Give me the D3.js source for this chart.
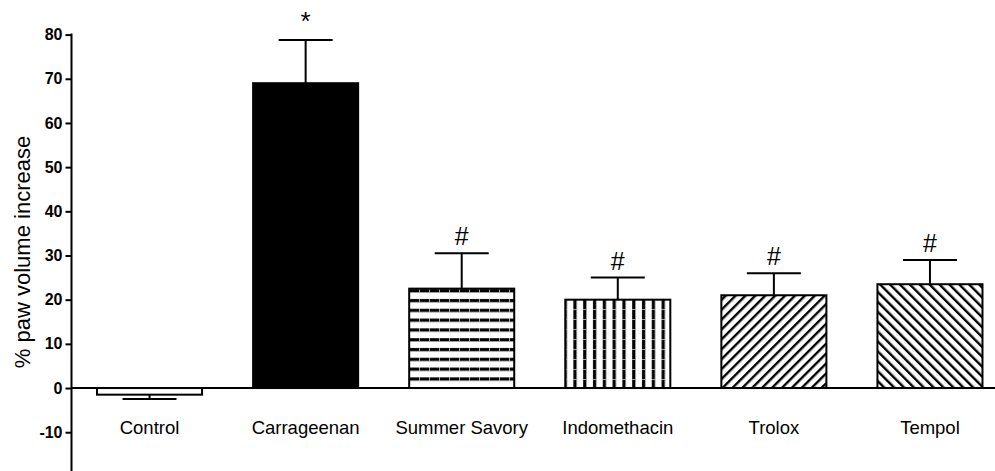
<!DOCTYPE html>
<html><head><meta charset="utf-8">
<script src="https://cdn.jsdelivr.net/npm/d3@7"></script>
<style>body{margin:0;background:#fff}svg{display:block}</style>
</head><body>
<svg id="c" width="995" height="471"></svg>
<script>
const categories = ["Control","Carrageenan","Summer Savory","Indomethacin","Trolox","Tempol"];
const means = [-1.5, 69, 22.5, 20, 21, 23.5];
const errors = [1.0, 9.8, 8.0, 5.0, 5.0, 5.5];
const marks = ["", "*", "#", "#", "#", "#"];
const fills = ["white","black","hstripe","vstripe","diagR","diagL"];
const yTicks = [-10,0,10,20,30,40,50,60,70,80];
const yTitle = "% paw volume increase";

const svg = d3.select("#c");
const x0 = 71.5;
const y = d3.scaleLinear().domain([-20, 80]).range([476.4, 34.6]);
const x = d3.scaleBand().domain(categories).range([x0, 1008]).paddingInner(0.327).paddingOuter(0.1635);

const defs = svg.append("defs");
let p = defs.append("pattern").attr("id","hstripe").attr("patternUnits","userSpaceOnUse").attr("width",10).attr("height",9.8);
p.append("rect").attr("width",10).attr("height",9.8).attr("fill","white");
p.append("rect").attr("y",5).attr("width",10).attr("height",3.2).attr("fill","black");
p.append("rect").attr("x",9).attr("y",5).attr("width",0.8).attr("height",3.2).attr("fill","#ccc");
p = defs.append("pattern").attr("id","vstripe").attr("patternUnits","userSpaceOnUse").attr("width",9.8).attr("height",10);
p.append("rect").attr("width",9.8).attr("height",10).attr("fill","white");
p.append("rect").attr("x",5).attr("width",3.2).attr("height",10).attr("fill","black");
p.append("rect").attr("x",5).attr("y",9).attr("width",3.2).attr("height",0.8).attr("fill","#ccc");
p = defs.append("pattern").attr("id","diagR").attr("patternUnits","userSpaceOnUse").attr("width",7).attr("height",7).attr("patternTransform","rotate(45)");
p.append("rect").attr("width",7).attr("height",7).attr("fill","white");
p.append("rect").attr("width",2.4).attr("height",7).attr("fill","black");
p = defs.append("pattern").attr("id","diagL").attr("patternUnits","userSpaceOnUse").attr("width",7).attr("height",7).attr("patternTransform","rotate(-45)");
p.append("rect").attr("width",7).attr("height",7).attr("fill","white");
p.append("rect").attr("width",2.4).attr("height",7).attr("fill","black");

const fillOf = f => (f === "white" || f === "black") ? f : `url(#${f})`;

const bw = x.bandwidth();
const data = categories.map((c,i)=>({c, m:means[i], e:errors[i], mark:marks[i], f:fills[i]}));
svg.selectAll("rect.bar").data(data).join("rect").attr("class","bar")
  .attr("x", d=>x(d.c)).attr("width", bw)
  .attr("y", d=>y(Math.max(0,d.m))).attr("height", d=>Math.abs(y(d.m)-y(0)))
  .attr("fill", d=>fillOf(d.f)).attr("stroke","black").attr("stroke-width",2);

const capW = 54;
data.forEach(d=>{
  const cx = x(d.c)+bw/2;
  const yt = y(d.m + (d.m<0 ? -d.e : d.e));
  svg.append("line").attr("x1",cx).attr("x2",cx).attr("y1",y(d.m)).attr("y2",yt).attr("stroke","black").attr("stroke-width",2);
  svg.append("line").attr("x1",cx-capW/2).attr("x2",cx+capW/2).attr("y1",yt).attr("y2",yt).attr("stroke","black").attr("stroke-width",2);
  if (d.mark) {
    svg.append("text").attr("x",cx).attr("y", yt - (d.mark==="*"?10:8))
      .attr("text-anchor","middle").attr("font-family","Liberation Sans, Arial, sans-serif")
      .attr("font-size", d.mark==="*"?26:25).text(d.mark);
  }
});

svg.append("line").attr("x1",x0).attr("x2",995).attr("y1",y(0)).attr("y2",y(0)).attr("stroke","black").attr("stroke-width",2);

const ya = svg.append("g").attr("transform",`translate(${x0},0)`)
  .call(d3.axisLeft(y).tickValues(yTicks).tickSize(6).tickPadding(3).tickFormat(d => String(d)));
ya.select(".domain").remove();
ya.append("line").attr("x1",0).attr("x2",0).attr("y1",y(80)-1).attr("y2",471).attr("stroke","black").attr("stroke-width",2);
ya.selectAll(".tick line").attr("stroke","black").attr("stroke-width",2);
ya.selectAll(".tick text").attr("font-family","Liberation Sans, Arial, sans-serif").attr("font-size",16).attr("font-weight","bold").attr("fill","black");

svg.selectAll("text.xl").data(categories).join("text").attr("class","xl")
  .attr("x", d=>x(d)+bw/2).attr("y", 434).attr("text-anchor","middle")
  .attr("font-family","Liberation Sans, Arial, sans-serif").attr("font-size",18.5).text(d=>d);

svg.append("text").attr("transform","translate(30,252) rotate(-90)").attr("text-anchor","middle")
  .attr("font-family","Liberation Sans, Arial, sans-serif").attr("font-size",22).text(yTitle);
</script>
</body></html>
